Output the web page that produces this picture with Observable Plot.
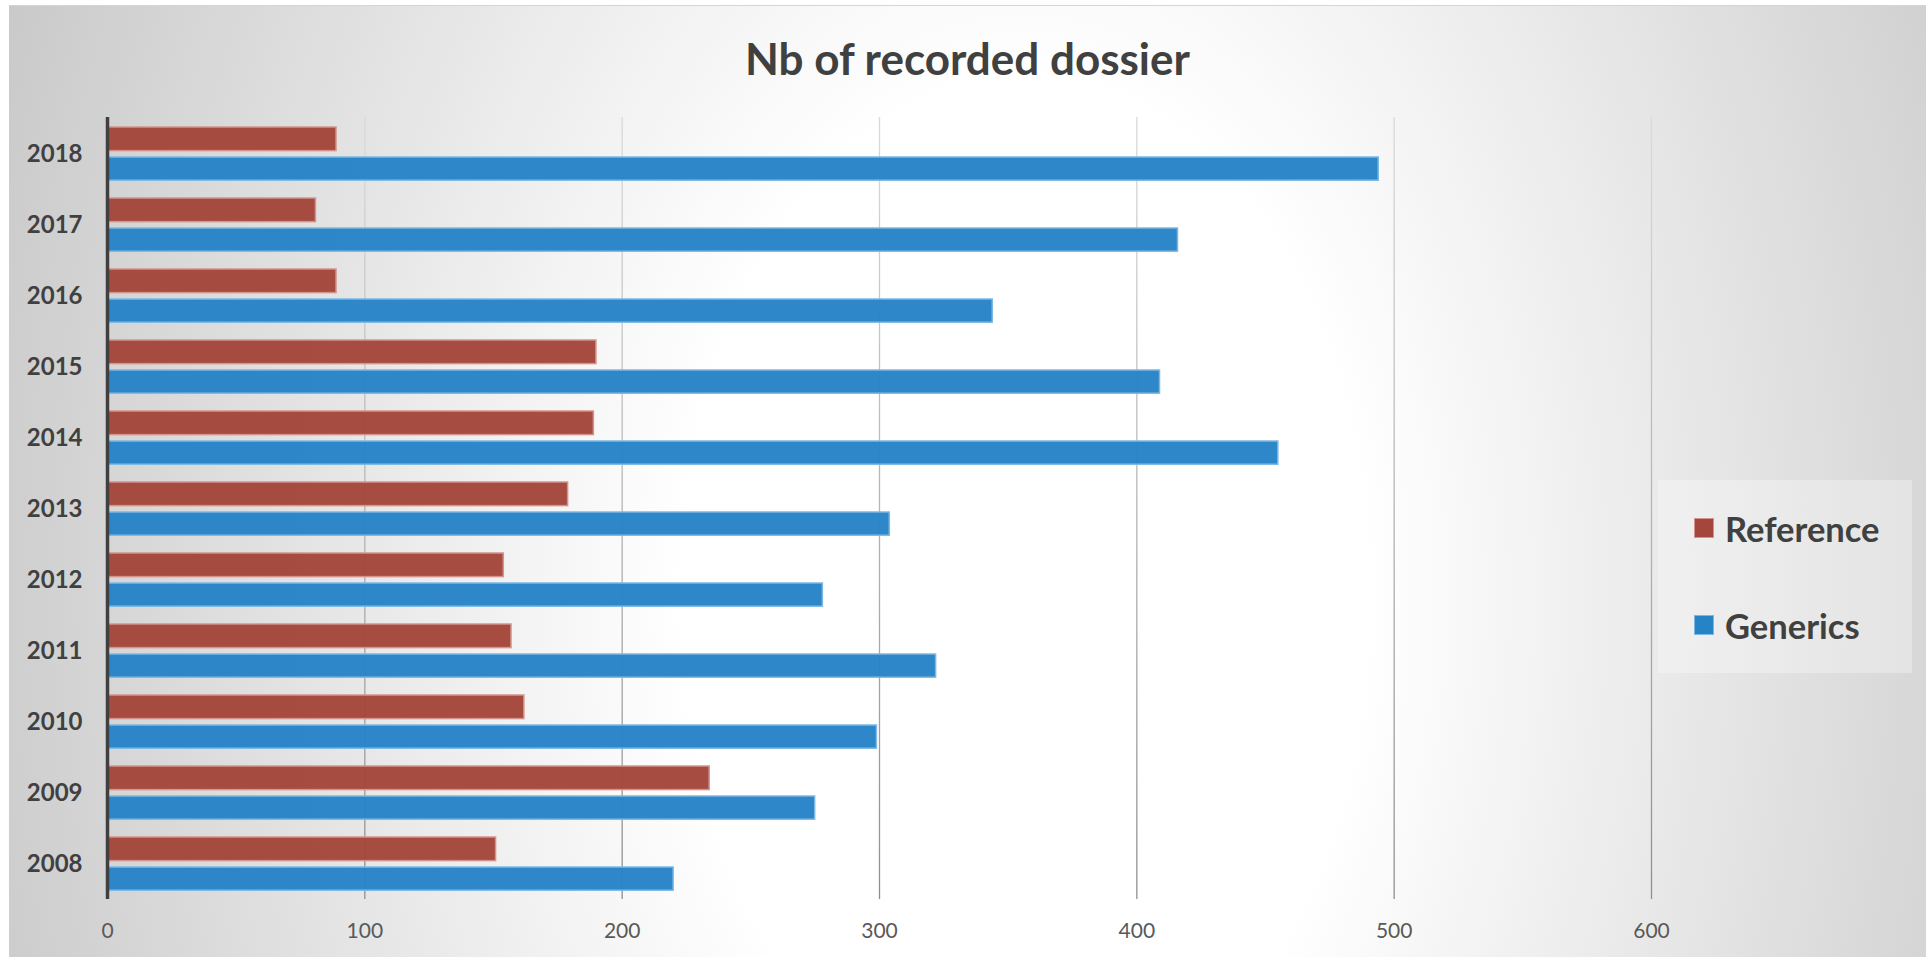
<!DOCTYPE html>
<html>
<head>
<meta charset="utf-8">
<script src="https://cdn.jsdelivr.net/npm/d3@7"></script>
<script src="https://cdn.jsdelivr.net/npm/@observablehq/plot@0.6"></script>
<style>
  html, body { margin: 0; padding: 0; background: #ffffff; overflow: hidden; }
  #frame {
    position: absolute; left: 9px; top: 5px; width: 1917px; height: 952px;
    background: radial-gradient(ellipse 66% 200% at 53% 62%, #ffffff 0%, #ffffff 27%, #bdbdbd 100%);
    border-top: 1px solid #d4d4d4;
  }
  #title {
    position: absolute; left: 9px; width: 1917px; top: 32px; line-height: 52px;
    text-align: center; font-family: Lato, sans-serif; font-weight: bold; font-size: 44px; color: #404040;
  }
  #chart { position: absolute; left: 0; top: 0; }
  #legend {
    position: absolute; left: 1658px; top: 480px; width: 254px; height: 193px;
    background: rgba(255,255,255,0.3);
    font-family: Lato, sans-serif; font-weight: bold; font-size: 34.5px; color: #404040;
  }
  .item { position: absolute; left: 36px; height: 40px; display: flex; align-items: center; }
  .sw { width: 18px; height: 18px; border: 1.5px solid; margin-right: 11px; }
</style>
</head>
<body>
<svg width="0" height="0" style="position:absolute">
  <defs>
    <linearGradient id="gridGrad" gradientUnits="userSpaceOnUse" x1="0" y1="117" x2="0" y2="899">
      <stop offset="0" stop-color="#dadada"></stop>
      <stop offset="1" stop-color="#8f8f8f"></stop>
    </linearGradient>
  </defs>
</svg>
<div id="frame"></div>
<div id="chart"></div>
<div id="title"></div>
<div id="legend"></div>
<script>
const titleText = "Nb of recorded dossier";
const years = ["2018","2017","2016","2015","2014","2013","2012","2011","2010","2009","2008"];
const seriesNames = ["Reference", "Generics"];
const referenceValues = [89, 81, 89, 190, 189, 179, 154, 157, 162, 234, 151];
const genericsValues = [494, 416, 344, 409, 455, 304, 278, 322, 299, 275, 220];
const xTicks = [0, 100, 200, 300, 400, 500, 600];
const fills = ["#A4463B", "#2683C6"];
const strokes = ["#D4948D", "#7DB8E4"];

const refData = years.map((y, i) => ({year: y, series: seriesNames[0], value: referenceValues[i]}));
const genData = years.map((y, i) => ({year: y, series: seriesNames[1], value: genericsValues[i]}));

document.getElementById("title").textContent = titleText;

const W = 1926, H = 957;
const plot = Plot.plot({
  width: W,
  height: H,
  marginTop: 117,
  marginBottom: 58,
  marginLeft: 107,
  marginRight: 275,
  style: {background: "transparent", fontFamily: "Lato, sans-serif", overflow: "visible"},
  x: {domain: [0, 600]},
  y: {domain: years, padding: 0},
  marks: [
    Plot.ruleX(xTicks.filter(d => d > 0), {stroke: "url(#gridGrad)", strokeWidth: 1.3}),
    Plot.barX(refData, {x: "value", y: "year", fill: fills[0], fillOpacity: 0.97, stroke: strokes[0], strokeWidth: 1.5, insetTop: 9, insetBottom: 38.4}),
    Plot.barX(genData, {x: "value", y: "year", fill: fills[1], fillOpacity: 0.97, stroke: strokes[1], strokeWidth: 1.5, insetTop: 39, insetBottom: 8.8}),
    Plot.ruleX([0], {stroke: "#404040", strokeWidth: 3.5}),
    Plot.axisX(xTicks, {tickSize: 0, tickPadding: 24, fontSize: 21, fill: "#595959", label: null}),
    Plot.axisY({tickSize: 0, tickPadding: 25, fontSize: 24, fontWeight: "bold", fill: "#404040", label: null})
  ]
});
document.getElementById("chart").appendChild(plot);

const legend = document.getElementById("legend");
const rowCenters = [48, 145];
seriesNames.forEach((name, i) => {
  const item = document.createElement("div");
  item.className = "item";
  item.style.top = (rowCenters[i] - 20) + "px";
  const sw = document.createElement("div");
  sw.className = "sw";
  sw.style.background = fills[i];
  sw.style.borderColor = strokes[i];
  const label = document.createElement("span");
  label.textContent = name;
  item.appendChild(sw);
  item.appendChild(label);
  legend.appendChild(item);
});
</script>
</body>
</html>
